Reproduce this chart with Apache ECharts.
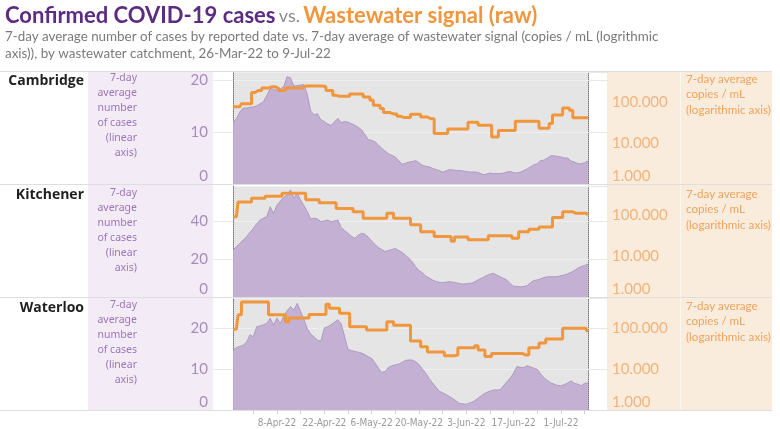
<!DOCTYPE html>
<html>
<head>
<meta charset="utf-8">
<script src="https://cdn.jsdelivr.net/npm/echarts@6/dist/echarts.min.js"></script>
<style>
html,body{margin:0;padding:0;background:#fff;}
#chart{width:780px;height:429px;}
</style>
</head>
<body>
<div id="chart"></div>
<script>
// ---- data ----
const panelNames = ['Cambridge', 'Kitchener', 'Waterloo'];
const tickLabels = ['8-Apr-22', '22-Apr-22', '6-May-22', '20-May-22', '3-Jun-22', '17-Jun-22', '1-Jul-22'];
const caseTicks = [[0, 10, 20], [0, 20, 40], [0, 10, 20]];
const wwTickLabels = ['1.000', '10.000', '100.000'];

// categories: daily, 26-Mar-22 .. 9-Jul-22
const monthNames = ['Jan','Feb','Mar','Apr','May','Jun','Jul','Aug','Sep','Oct','Nov','Dec'];
const dates = [];
for (let i = 0; i < 106; i++) {
  const d = new Date(Date.UTC(2022, 2, 26 + i));
  dates.push(d.getUTCDate() + '-' + monthNames[d.getUTCMonth()] + '-22');
}

const cambridgeCases = [
  11.9,12.5,13.8,14.6,14.6,14.7,14.8,15.0,15.4,15.8,
  17.0,18.3,18.2,18.0,18.3,18.7,20.6,20.4,18.8,18.9,
  19.0,19.1,17.1,14.0,13.3,13.5,12.3,12.0,11.5,11.3,
  11.9,12.6,11.8,12.0,11.9,11.6,11.3,10.9,10.4,9.5,
  8.5,8.4,8.1,7.5,6.8,6.3,5.8,5.5,5.2,4.5,
  3.8,4.0,4.2,4.3,4.5,4.1,3.6,3.4,3.3,3.0,
  2.8,2.6,2.3,2.5,2.8,2.7,2.6,2.6,2.5,2.4,
  2.3,2.3,2.3,2.1,1.8,1.9,2.1,2.0,2.0,2.0,
  2.1,2.3,2.4,2.2,2.1,2.3,2.6,2.9,3.3,3.7,
  3.9,4.5,4.6,5.0,5.4,5.4,5.3,5.2,5.0,5.0,
  4.4,4.2,3.9,3.9,4.1,4.4
];
const cambridgeWW = [
  76,76,76,91,91,91,170,190,190,219,
  219,234,234,214,190,190,219,219,219,219,
  219,245,245,245,245,245,245,234,190,190,
  145,138,138,138,138,157,157,157,157,132,
  132,110,83,83,69,55,55,51,51,45,
  42,42,42,50,50,50,43,43,39,39,
  17,17,17,17,22,22,22,22,22,22,
  32,32,32,27,27,27,27,14,14,20,
  20,20,20,20,34,34,34,34,34,34,
  34,23,23,23,30,48,48,48,71,71,
  63,41,41,41,41,41
];
const kitchenerCases = [
  24.7,26.5,28.2,30.0,31.7,34.0,36.1,38.5,40.5,41.5,
  42.3,47.5,44.0,48.4,50.5,52.5,53.7,56.3,52.0,54.6,
  51.0,48.0,45.0,41.0,41.5,41.0,39.6,40.0,40.5,39.6,
  40.0,40.5,36.5,35.0,33.5,32.0,30.9,32.5,33.5,33.0,
  31.5,29.5,27.5,26.0,25.0,24.0,24.5,25.0,25.5,24.5,
  23.5,22.0,20.5,18.5,16.0,14.0,12.8,11.0,10.0,9.0,
  8.2,7.8,7.5,7.8,8.1,7.8,7.5,7.1,6.8,7.0,
  7.2,7.5,8.5,9.5,10.3,11.3,12.0,12.5,11.6,10.7,
  9.8,8.9,7.0,5.7,5.5,5.4,5.5,6.0,7.5,8.7,
  9.0,9.6,10.2,10.7,10.7,10.7,10.8,11.2,11.6,12.2,
  13.0,14.0,15.2,16.0,16.6,17.2
];
const kitchenerWW = [
  91,91,209,209,209,209,257,257,257,257,
  288,288,288,288,288,339,339,339,339,339,
  339,339,234,234,234,234,200,200,200,200,
  200,145,145,145,145,145,120,120,120,83,
  83,83,83,83,83,83,110,110,83,83,
  83,83,83,58,58,58,39,39,39,39,
  30,30,30,30,30,23,29,29,29,29,
  25,25,25,25,25,25,31,31,31,31,
  31,31,31,27,27,39,39,39,45,45,
  45,51,51,51,51,87,87,87,120,120,
  120,110,110,110,110,100
];
const waterlooCases = [
  14.6,15.2,15.5,15.8,16.5,18.3,17.9,20.3,20.5,20.8,
  21.1,22.4,20.7,22.4,21.1,23.0,24.2,25.2,24.4,26.0,
  24.0,22.0,19.8,18.5,17.8,17.0,16.8,20.0,20.3,20.8,
  21.4,22.0,21.0,18.0,14.8,14.5,14.3,14.1,13.9,13.5,
  13.0,12.6,11.5,10.2,9.2,9.4,10.4,10.8,11.0,11.2,
  11.6,12.1,12.2,12.2,11.8,11.1,10.0,9.0,7.7,6.6,
  5.6,4.6,4.2,3.8,3.3,2.8,2.2,1.6,1.5,1.4,
  1.7,2.0,2.6,3.2,3.8,4.3,4.6,4.9,4.9,4.9,
  5.9,6.9,7.8,9.0,10.6,10.4,10.3,10.8,10.5,10.2,
  9.9,8.8,7.8,7.2,6.6,6.3,6.0,5.9,6.2,6.6,
  7.1,6.5,6.3,5.9,6.5,6.6
];
const waterlooWW = [
  93,93,209,427,427,427,427,427,427,427,
  427,209,209,209,209,209,141,174,174,174,
  174,174,174,214,214,214,214,214,380,302,
  302,302,229,229,229,107,107,107,107,107,
  89,89,89,89,89,89,141,141,117,117,
  117,117,117,48,48,48,35,35,26,26,
  26,26,26,21,21,21,22,33,33,33,
  33,33,37,29,29,20,20,24,24,24,
  24,24,24,24,24,24,22,22,33,33,
  33,43,43,54,54,54,54,54,98,98,
  98,98,98,98,98,85
];

const casesData = [cambridgeCases, kitchenerCases, waterlooCases];
const wwData = [cambridgeWW, kitchenerWW, waterlooWW];

// ---- layout / style ----
const gridTops = [72, 186, 298];
const gridHeights = [112, 111, 112];
const caseMax = [21.5, 58.4, 27.3];
const caseInterval = [10, 20, 10];
const wwMax = [537, 510, 537];

const PURPLE_TXT = '#9d75b9';
const PURPLE_TICK = '#a58cba';
const ORANGE_TXT = '#f0a35a';
const ORANGE_TICK = '#f2b47a';
const FONT = 'Lato, "Open Sans", sans-serif';
const NARROW = '"Liberation Sans Narrow", "DejaVu Sans Condensed", Lato, sans-serif';

const chart = echarts.init(document.getElementById('chart'), null, {renderer: 'canvas'});

const grids = [], xAxes = [], yAxes = [], series = [];
for (let k = 0; k < 3; k++) {
  grids.push({left: 233, width: 355, top: gridTops[k], height: gridHeights[k],
    show: true, backgroundColor: '#e5e5e5', borderWidth: 0, containLabel: false});
  const last = k === 2;
  xAxes.push({
    type: 'category', gridIndex: k, data: dates, boundaryGap: false,
    axisLine: {show: last, lineStyle: {color: '#d9d9d9'}},
    axisTick: {show: last, length: 4, interval: (i) => i % 7 === 6, lineStyle: {color: '#cfcfcf'}},
    axisLabel: {show: last, interval: (i, v) => tickLabels.indexOf(v) >= 0,
      color: '#9a9a9a', fontSize: 10, fontFamily: NARROW, margin: 8, hideOverlap: false},
    splitLine: {show: false}
  });
  // left linear axis (cases)
  yAxes.push({
    type: 'value', gridIndex: k, position: 'left', min: 0, max: caseMax[k], interval: caseInterval[k],
    axisLine: {show: true, lineStyle: {color: '#7a7a7a', type: 'dotted', width: 1}},
    axisTick: {show: true, inside: false, length: 20, lineStyle: {color: '#e8e8e8'}},
    axisLabel: {show: true, margin: 25, color: PURPLE_TICK, fontSize: 15, fontFamily: FONT,
      showMaxLabel: false, verticalAlignMinLabel: 'bottom',
      formatter: (v) => caseTicks[k].indexOf(v) >= 0 ? String(v) : ''},
    splitLine: {show: true, lineStyle: {color: '#efefef', width: 1}}
  });
  // right log axis (wastewater)
  yAxes.push({
    type: 'log', logBase: 10, gridIndex: k, position: 'right', min: 1, max: wwMax[k],
    axisLine: {show: true, lineStyle: {color: '#7a7a7a', type: 'dotted', width: 1}},
    axisTick: {show: false},
    axisLabel: {show: true, margin: 24, color: ORANGE_TICK, fontSize: 15, fontFamily: FONT,
      showMaxLabel: false, verticalAlignMinLabel: 'bottom',
      formatter: (v) => {
        const s = Number(v).toFixed(3);
        return wwTickLabels.indexOf(s) >= 0 ? s : '';
      }},
    splitLine: {show: false}
  });
  // right helper axis: extends case gridlines into the right gap
  yAxes.push({
    type: 'value', gridIndex: k, position: 'right', min: 0, max: caseMax[k], interval: caseInterval[k],
    axisLine: {show: false},
    axisTick: {show: true, inside: false, length: 20, lineStyle: {color: '#e8e8e8'}},
    axisLabel: {show: false},
    splitLine: {show: false}
  });
  series.push({
    type: 'line', xAxisIndex: k, yAxisIndex: 3 * k, data: casesData[k],
    symbol: 'none', smooth: false,
    lineStyle: {color: '#a590b9', width: 0.8},
    areaStyle: {color: '#bfaad0', opacity: 0.9},
    z: 2
  });
  series.push({
    type: 'line', xAxisIndex: k, yAxisIndex: 3 * k + 1, data: wwData[k],
    symbol: 'none', step: 'middle',
    lineStyle: {color: '#f0963c', width: 3},
    z: 3
  });
}

// ---- decorations ----
const graphics = [];
graphics.push({type: 'rect', z: -10, shape: {x: 88, y: 72, width: 125, height: 338}, style: {fill: '#f3ecf6'}});
graphics.push({type: 'rect', z: -10, shape: {x: 607, y: 72, width: 165, height: 338}, style: {fill: '#f9ecdc'}});
graphics.push({type: 'line', z: -5, shape: {x1: 680.5, y1: 72, x2: 680.5, y2: 410}, style: {stroke: '#fdf7f0', lineWidth: 1}});
[71.5, 184.5, 297.5, 410.5].forEach((y) => {
  graphics.push({type: 'line', z: 5, shape: {x1: 0, y1: y, x2: 772, y2: y}, style: {stroke: '#dedede', lineWidth: 1}});
});
// Title
graphics.push({type: 'text', x: 5, y: 16, style: {
  text: '{a|Confirmed COVID-19 cases} {b|vs.} {c|Wastewater signal (raw)}',
  verticalAlign: 'middle', align: 'left',
  rich: {
    a: {font: 'bold 22px ' + FONT, fill: '#5b2c82'},
    b: {font: '18px ' + FONT, fill: '#8a8a8a'},
    c: {font: 'bold 22px ' + FONT, fill: '#f0963c'}
  }
}});
graphics.push({type: 'text', x: 5, y: 28.5, style: {
  text: '7-day average number of cases by reported date vs. 7-day average of wastewater signal (copies / mL (logrithmic\naxis)), by wastewater catchment, 26-Mar-22 to 9-Jul-22',
  font: '13.4px ' + FONT, fill: '#7a7a7a', lineHeight: 17, verticalAlign: 'top', align: 'left'
}});
const panelLabelY = [81, 195, 308];
const axisTitleTop = [71, 186, 298];
for (let k = 0; k < 3; k++) {
  graphics.push({type: 'text', x: 84, y: panelLabelY[k], style: {
    text: panelNames[k], font: 'bold 14px "Open Sans", sans-serif', fill: '#1f1f1f',
    align: 'right', verticalAlign: 'middle'}});
  graphics.push({type: 'text', x: 137, y: axisTitleTop[k], style: {
    text: '7-day\naverage\nnumber\nof cases\n(linear\naxis)', font: '10.5px "Noto Sans", sans-serif',
    fill: PURPLE_TXT, lineHeight: 15, align: 'right', verticalAlign: 'top'}});
  graphics.push({type: 'text', x: 686, y: axisTitleTop[k], style: {
    text: '7-day average\ncopies / mL\n(logarithmic axis)', font: '11.6px ' + FONT,
    fill: ORANGE_TXT, lineHeight: 15.5, align: 'left', verticalAlign: 'top'}});
}

chart.setOption({
  animation: false,
  grid: grids,
  xAxis: xAxes,
  yAxis: yAxes,
  series: series,
  graphic: {elements: graphics}
});
</script>
</body>
</html>
